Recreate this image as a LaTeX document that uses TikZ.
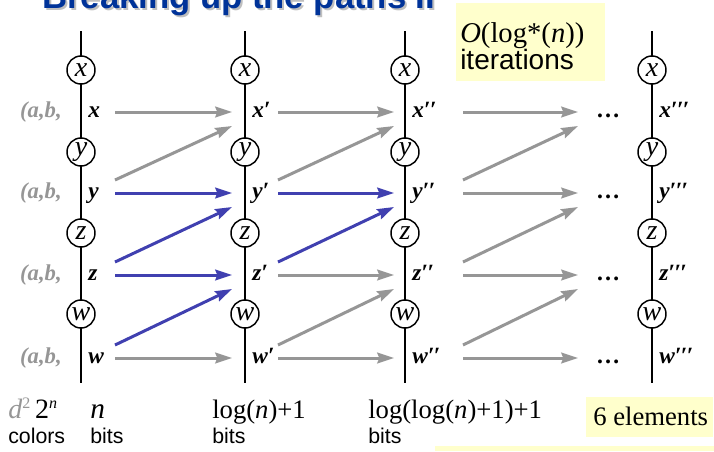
\documentclass[tikz,border=0pt]{standalone}
\usepackage{fontspec}
\setmainfont{Liberation Serif}
\setsansfont{Liberation Sans}
\usetikzlibrary{arrows.meta}
\definecolor{titleblue}{RGB}{0,51,153}
\definecolor{arrgray}{RGB}{150,150,150}
\definecolor{arrblue}{RGB}{64,64,176}
\definecolor{labgray}{RGB}{150,150,150}
\definecolor{noteyellow}{RGB}{255,255,204}
\begin{document}
\begin{tikzpicture}[x=0.75pt,y=-0.75pt,
  vline/.style={line width=1.1pt},
  vcirc/.style={circle,draw,line width=1.1pt,fill=white,minimum size=21pt,inner sep=0pt,font=\fontsize{21}{21}\selectfont\itshape},
  rowlab/.style={anchor=base west,inner sep=0pt,font=\fontsize{17.5}{17.5}\selectfont\bfseries\itshape},
  ablab/.style={anchor=base east,inner sep=0pt,text=labgray,font=\fontsize{17}{17}\selectfont\bfseries\itshape},
  dotlab/.style={anchor=base,inner sep=0pt,font=\fontsize{18}{18}\selectfont\bfseries},
  garr/.style={draw=arrgray,line width=2.25pt,-{Stealth[length=12.5pt,width=8pt,inset=1.5pt]}},
  barr/.style={garr,draw=arrblue},
  sertxt/.style={anchor=base west,inner sep=0pt,font=\fontsize{20}{20}\selectfont},
  sanstxt/.style={anchor=base west,inner sep=0pt,font=\sffamily\fontsize{16}{16}\selectfont},
  notefill/.style={fill=noteyellow,draw=none}
]
\useasboundingbox (0,0) rectangle (714,451);
% title
\node[anchor=base west,inner sep=0pt,text=black!25,font=\sffamily\bfseries\fontsize{26}{26}\selectfont] (titleshadow) at (44,10) {Breaking up the paths II};
\node[anchor=base west,inner sep=0pt,text=titleblue,font=\sffamily\bfseries\fontsize{26}{26}\selectfont] (title) at (42,8) {Breaking up the paths II};
% yellow boxes
\path[notefill] (456,3) rectangle (605,81);
\node[anchor=base west,inner sep=0pt,font=\fontsize{21.5}{21.5}\selectfont] (iterO) at (460,42) {\textit{O}(log*(\textit{n}))};
\node[anchor=base west,inner sep=0pt,font=\sffamily\fontsize{21}{21}\selectfont] (iterT) at (460,69) {iterations};
\path[notefill] (586,397) rectangle (713,437);
\node[sertxt] (sixel) at (593,425) {6 elements};
\path[notefill] (435,446) rectangle (714,451);
% columns
\foreach \c/\cx/\p in {1/81/{}, 2/245/{′}, 3/405/{′\kern-0.5pt′}, 4/652/{′\kern-0.5pt′\kern-0.5pt′}} {
  \coordinate (top\c) at (\cx,31);
  \coordinate (bot\c) at (\cx,383);
  \draw[vline] (top\c) -- (bot\c);
  \foreach \v/\cy in {x/70,y/152,z/233,w/314}
    \node[vcirc] (c\v\c) at (\cx,\cy) {\v};
  \foreach \v/\ry in {x/112,y/193,z/275,w/358}
    \node[rowlab] (l\v\c) at (\cx+7,\ry+5) {\v\p};
}
% (a,b, labels and dots
\foreach \v/\ry in {x/112,y/193,z/275,w/358} {
  \node[ablab] (ab\v) at (62,\ry+5) {(a,b,};
  \node[dotlab] (dots\v) at (608,\ry+5) {…};
}
% arrow end points
\foreach \k/\s/\e in {1/115/232, 2/278/394, 3/463/578} {
  \foreach \v/\ry in {x/112,y/193,z/275,w/358} {
    \coordinate (hs\v\k) at (\s,\ry);
    \coordinate (he\v\k) at (\e,\ry);
    \coordinate (ds\v\k) at (\s,\ry-13);
    \coordinate (de\v\k) at (\e,\ry+14);
  }
}
% column 1 -> 2
\draw[garr] (hsx1) -- (hex1);
\draw[garr] (dsy1) -- (dex1);
\draw[barr] (hsy1) -- (hey1);
\draw[barr] (dsz1) -- (dey1);
\draw[barr] (hsz1) -- (hez1);
\draw[barr] (dsw1) -- (dez1);
\draw[garr] (hsw1) -- (hew1);
% column 2 -> 3
\draw[garr] (hsx2) -- (hex2);
\draw[garr] (dsy2) -- (dex2);
\draw[barr] (hsy2) -- (hey2);
\draw[barr] (dsz2) -- (dey2);
\draw[garr] (hsz2) -- (hez2);
\draw[garr] (dsw2) -- (dez2);
\draw[garr] (hsw2) -- (hew2);
% column 3 -> dots
\draw[garr] (hsx3) -- (hex3);
\draw[garr] (dsy3) -- (dex3);
\draw[garr] (hsy3) -- (hey3);
\draw[garr] (dsz3) -- (dey3);
\draw[garr] (hsz3) -- (hez3);
\draw[garr] (dsw3) -- (dez3);
\draw[garr] (hsw3) -- (hew3);
% bottom texts
\node[sertxt,font=\fontsize{21}{21}\selectfont] (colexp) at (8,418) {\textcolor{labgray}{\textit{d}\raisebox{7pt}{\fontsize{12}{12}\selectfont 2}}\,2\raisebox{7pt}{\fontsize{12}{12}\selectfont\textit{n}}};
\node[sanstxt] (colors) at (8,443) {colors};
\node[sertxt,font=\fontsize{22}{22}\selectfont\itshape] (nbits) at (90,418) {n};
\node[sanstxt] (bits1) at (90,443) {bits};
\node[sertxt] (logn) at (212,418) {log(\textit{n})+1};
\node[sanstxt] (bits2) at (212,443) {bits};
\node[sertxt] (loglogn) at (368,418) {log(log(\textit{n})+1)+1};
\node[sanstxt] (bits3) at (368,443) {bits};
\end{tikzpicture}
\end{document}
